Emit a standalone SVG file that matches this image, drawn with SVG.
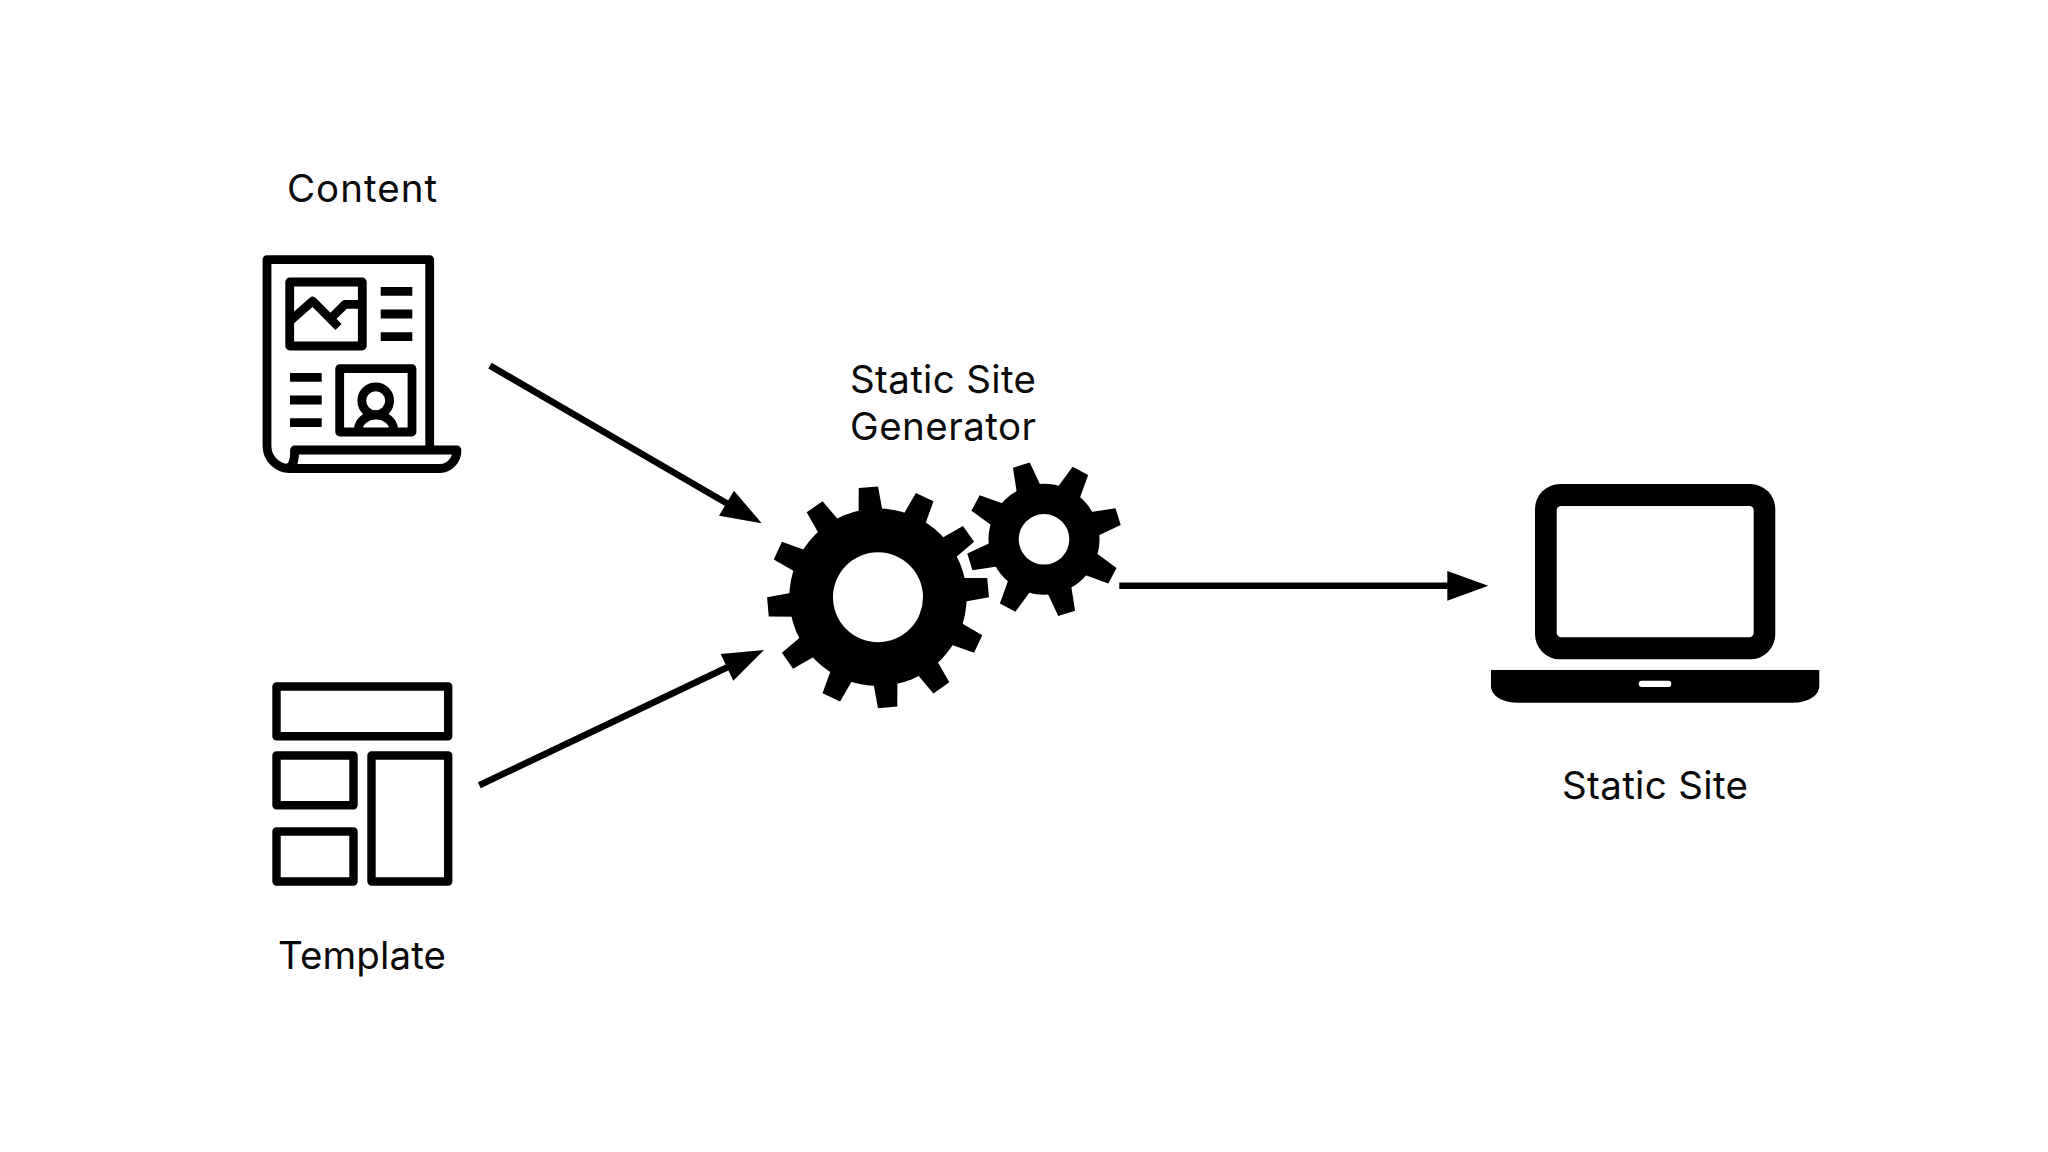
<svg xmlns="http://www.w3.org/2000/svg" xmlns:xlink="http://www.w3.org/1999/xlink" width="2048" height="1152" viewBox="0 0 2048 1152">
<style>
text{font-family:"Inter","Liberation Sans",sans-serif;font-size:38.5px;fill:#0a0a0a}
.s{fill:none;stroke:#000;stroke-width:8.8;stroke-linejoin:round}
.t{fill:none;stroke:#000;stroke-width:8.4;stroke-linejoin:round}
.c{stroke:#000;stroke-width:6.6;fill:none}
.h{fill:#000}
</style>
<defs>
<polygon id="t1" points="-12.5,-80 -9.7,-110.5 9.7,-110.5 12.5,-80"/>
<polygon id="t2" points="-13,-48 -8.8,-77.5 8.8,-77.5 13,-48"/>
</defs>
<rect width="2048" height="1152" fill="#fff"/>
<g id="connectors">
<g id="arrow-content"><line class="c" x1="490" y1="365.7" x2="728" y2="504"/><polygon class="h" points="761.7,523.3 734,490.7 719,515.7"/></g>
<g id="arrow-template"><line class="c" x1="479.3" y1="785.3" x2="728" y2="667"/><polygon class="h" points="764,650 720.7,654 733.3,680.7"/></g>
<g id="arrow-site"><line class="c" x1="1119.3" y1="585.7" x2="1450" y2="585.7"/><polygon class="h" points="1488.3,585.7 1447.3,571 1447.3,600.7"/></g>
</g>
<g id="content">
<text x="287" y="201.7" textLength="150" lengthAdjust="spacing">Content</text>
<path class="s" d="M429.7 450V259.6H267V446a22.5 22.5 0 0 0 22.5 22.5H440A17 18.5 0 0 0 457 450H294.5v4c0 8-3 14-8 14.5"/>
<rect class="s" x="289.7" y="282" width="72.6" height="64"/>
<path class="s" stroke-linejoin="miter" d="M290 321L312.7 301 338.5 327M330.7 318.5L345 304.3H362"/>
<path class="s" d="M380.7 291.3H412.3M380.7 314H412.3M380.7 336.7H412.3M290 377.3H321.7M290 400H321.7M290 422.7H321.7"/>
<rect class="s" x="339.7" y="368.7" width="72.3" height="63.3"/>
<circle class="s" cx="375.7" cy="400.7" r="13.9"/>
<path class="s" d="M358.3 430A17.7 15 0 0 1 393.7 430"/>
</g>
<g id="template">
<rect class="t" x="276.5" y="686.5" width="171.7" height="49.7"/>
<rect class="t" x="276.5" y="755.5" width="77" height="49.7"/>
<rect class="t" x="276.5" y="831.5" width="77" height="50"/>
<rect class="t" x="371.5" y="755.5" width="76.7" height="126"/>
<text x="278" y="968.5" textLength="168" lengthAdjust="spacing">Template</text>
</g>
<g id="generator">
<text x="850" y="393.3" textLength="186" lengthAdjust="spacing">Static Site</text>
<text x="850" y="440.3" textLength="186" lengthAdjust="spacing">Generator</text>
<g id="gear-large" transform="translate(878 597.3)">
<circle r="88.7"/>
<use xlink:href="#t1" href="#t1" transform="rotate(-5)"/><use xlink:href="#t1" href="#t1" transform="rotate(25)"/><use xlink:href="#t1" href="#t1" transform="rotate(55)"/><use xlink:href="#t1" href="#t1" transform="rotate(85)"/><use xlink:href="#t1" href="#t1" transform="rotate(115)"/><use xlink:href="#t1" href="#t1" transform="rotate(145)"/><use xlink:href="#t1" href="#t1" transform="rotate(175)"/><use xlink:href="#t1" href="#t1" transform="rotate(205)"/><use xlink:href="#t1" href="#t1" transform="rotate(235)"/><use xlink:href="#t1" href="#t1" transform="rotate(265)"/><use xlink:href="#t1" href="#t1" transform="rotate(295)"/><use xlink:href="#t1" href="#t1" transform="rotate(325)"/>
<circle r="45" fill="#fff"/>
</g>
<g id="gear-small" transform="translate(1044 539.3)">
<circle r="55.5"/>
<use xlink:href="#t2" href="#t2" transform="rotate(-17)"/><use xlink:href="#t2" href="#t2" transform="rotate(28)"/><use xlink:href="#t2" href="#t2" transform="rotate(73)"/><use xlink:href="#t2" href="#t2" transform="rotate(118)"/><use xlink:href="#t2" href="#t2" transform="rotate(163)"/><use xlink:href="#t2" href="#t2" transform="rotate(208)"/><use xlink:href="#t2" href="#t2" transform="rotate(253)"/><use xlink:href="#t2" href="#t2" transform="rotate(298)"/>
<circle r="25.3" fill="#fff"/>
</g>
</g>
<g id="static-site">
<rect x="1535" y="484" width="240.3" height="175.3" rx="25" fill="#000"/>
<rect x="1556.7" y="506" width="197" height="131.3" rx="4.5" fill="#fff"/>
<path d="M1491 670H1819.3V686C1819.3 696 1807 702.7 1793 702.7H1517C1503 702.7 1491 696 1491 686Z"/>
<rect x="1638.7" y="680.7" width="32.6" height="6.4" rx="3" fill="#fff"/>
<text x="1562" y="799" textLength="186" lengthAdjust="spacing">Static Site</text>
</g>
</svg>
